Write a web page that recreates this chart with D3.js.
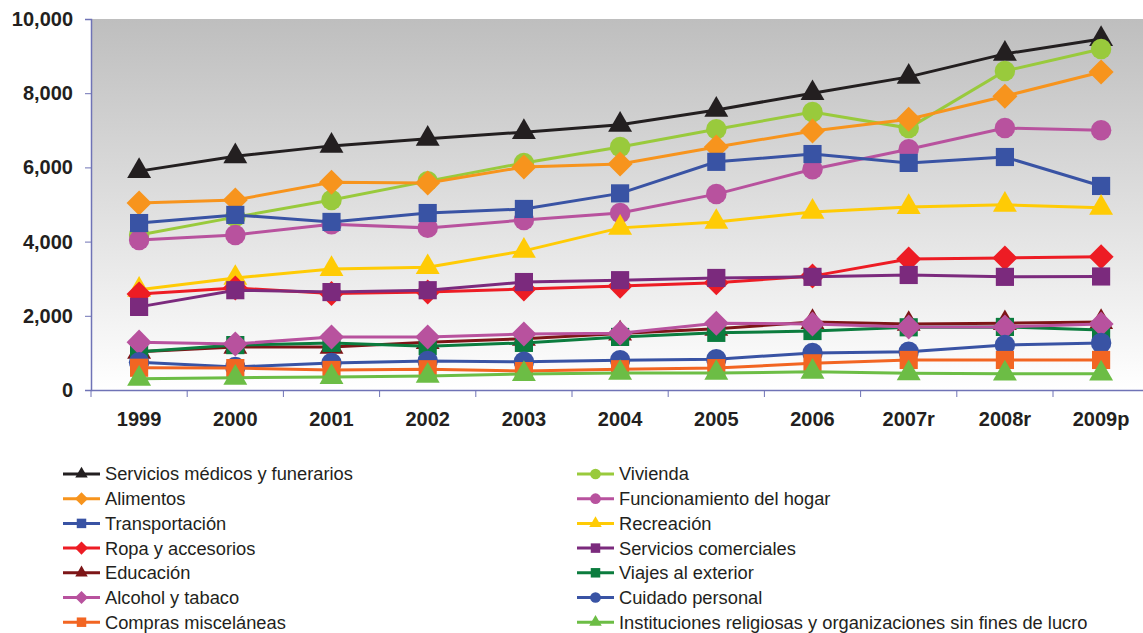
<!DOCTYPE html>
<html>
<head>
<meta charset="utf-8">
<script src="https://cdn.jsdelivr.net/npm/d3@7"></script>
<style>
  body { margin: 0; background: #fff; }
  svg { display: block; font-family: "Liberation Sans", Arial, sans-serif; }
</style>
</head>
<body>
<div id="chart"></div>
<script>
// years on the x axis
const years = ["1999", "2000", "2001", "2002", "2003", "2004", "2005", "2006", "2007r", "2008r", "2009p"];
const yTicks = [0, 2000, 4000, 6000, 8000, 10000];

// series values
const medicos      = [5900, 6300, 6580, 6770, 6950, 7150, 7550, 8000, 8440, 9060, 9460];
const vivienda     = [4180, 4660, 5120, 5630, 6120, 6550, 7030, 7490, 7060, 8600, 9190];
const alimentos    = [5040, 5120, 5600, 5580, 6010, 6090, 6550, 6980, 7300, 7920, 8570];
const hogar        = [4040, 4180, 4470, 4370, 4580, 4770, 5280, 5950, 6490, 7060, 7000];
const transporte   = [4500, 4720, 4530, 4770, 4880, 5300, 6150, 6360, 6120, 6280, 5500];
const recreacion   = [2700, 3020, 3260, 3310, 3750, 4370, 4530, 4800, 4930, 4990, 4910];
const ropa         = [2590, 2750, 2600, 2640, 2720, 2800, 2890, 3070, 3530, 3560, 3590];
const comerciales  = [2240, 2690, 2640, 2690, 2910, 2960, 3020, 3050, 3100, 3050, 3060];
const educacion    = [1030, 1160, 1160, 1290, 1380, 1520, 1650, 1830, 1780, 1800, 1830];
const viajes       = [1030, 1210, 1270, 1180, 1270, 1430, 1540, 1590, 1690, 1700, 1620];
const alcohol      = [1290, 1240, 1430, 1430, 1510, 1530, 1800, 1780, 1700, 1700, 1780];
const cuidado      = [750, 620, 730, 780, 760, 800, 830, 1000, 1030, 1210, 1270];
const compras      = [600, 590, 540, 560, 510, 560, 590, 720, 810, 810, 810];
const religiosas   = [300, 330, 350, 380, 430, 460, 460, 490, 450, 440, 440];

const series = [
  {name: "Servicios médicos y funerarios", values: medicos, color: "#231f20", shape: "triangle"},
  {name: "Vivienda", values: vivienda, color: "#99ca3c", shape: "circle"},
  {name: "Alimentos", values: alimentos, color: "#f7941d", shape: "diamond"},
  {name: "Funcionamiento del hogar", values: hogar, color: "#b8529e", shape: "circle"},
  {name: "Transportación", values: transporte, color: "#3953a4", shape: "square"},
  {name: "Recreación", values: recreacion, color: "#ffcb05", shape: "triangle"},
  {name: "Ropa y accesorios", values: ropa, color: "#ed1c24", shape: "diamond"},
  {name: "Servicios comerciales", values: comerciales, color: "#7b2a7d", shape: "square"},
  {name: "Educación", values: educacion, color: "#7d1517", shape: "triangle"},
  {name: "Viajes al exterior", values: viajes, color: "#0b7c3e", shape: "square"},
  {name: "Alcohol y tabaco", values: alcohol, color: "#b8529e", shape: "diamond"},
  {name: "Cuidado personal", values: cuidado, color: "#3953a4", shape: "circle"},
  {name: "Compras misceláneas", values: compras, color: "#f26522", shape: "square"},
  {name: "Instituciones religiosas y organizaciones sin fines de lucro", values: religiosas, color: "#6cbd45", shape: "triangle"}
];

const width = 1143, height = 633;
const margin = {top: 19, left: 91, bottom: 243};
const plotBottom = height - margin.bottom;

const svg = d3.select("#chart").append("svg")
    .attr("width", width)
    .attr("height", height);

const grad = svg.append("defs").append("linearGradient")
    .attr("id", "bg").attr("x1", 0).attr("y1", 0).attr("x2", 0).attr("y2", 1);
grad.append("stop").attr("offset", "0%").attr("stop-color", "#bebebe");
grad.append("stop").attr("offset", "100%").attr("stop-color", "#ffffff");

const x = d3.scaleBand().domain(years).range([margin.left, margin.left + 11 * 96.2]);
const y = d3.scaleLinear().domain([0, 10000]).range([plotBottom, margin.top]);

svg.append("rect")
    .attr("x", margin.left).attr("y", margin.top)
    .attr("width", width - margin.left).attr("height", plotBottom - margin.top)
    .attr("fill", "url(#bg)");

// axes
const axisColor = "#6f73b6";
const yAxis = svg.append("g")
    .attr("transform", "translate(" + margin.left + ",0)")
    .call(d3.axisLeft(y).tickValues(yTicks).tickSize(6).tickPadding(12).tickFormat(d3.format(",")));
const xAxis = svg.append("g")
    .attr("transform", "translate(0," + plotBottom + ")")
    .call(d3.axisBottom(x).tickSize(0).tickPadding(22));

// ticks between the categories
const bounds = d3.range(0, 12).map(i => x.range()[0] + i * x.step());
xAxis.selectAll(".bound").data(bounds).enter().append("line")
    .attr("class", "bound")
    .attr("x1", d => d).attr("x2", d => d)
    .attr("y1", 0).attr("y2", 7)
    .attr("stroke", axisColor);

svg.selectAll(".domain").attr("stroke", axisColor).attr("stroke-width", 1.5);
yAxis.selectAll(".tick line").attr("stroke", axisColor);
svg.selectAll(".tick text")
    .attr("fill", "#231f20")
    .style("font-size", "20px")
    .style("font-weight", "bold");

function symbolPath(shape, size) {
  if (shape === "triangle") return d3.symbol(d3.symbolTriangle, size * 0.75)();
  if (shape === "circle") return d3.symbol(d3.symbolCircle, size)();
  if (shape === "square") return d3.symbol(d3.symbolSquare, size)();
  return d3.symbol(d3.symbolSquare, size * 0.95)();
}

const line = d3.line()
    .x((d, i) => x(years[i]) + x.bandwidth() / 2)
    .y(d => y(d));

series.forEach(s => {
  const g = svg.append("g");
  g.append("path")
      .attr("d", line(s.values))
      .attr("fill", "none")
      .attr("stroke", s.color)
      .attr("stroke-width", 3);
  g.selectAll("path.mark").data(s.values).enter().append("path")
      .attr("class", "mark")
      .attr("d", symbolPath(s.shape, 330))
      .attr("fill", s.color)
      .attr("transform", (d, i) => "translate(" + (x(years[i]) + x.bandwidth() / 2) + "," + y(d) + ")" +
          (s.shape === "diamond" ? " rotate(45)" : ""));
});

// legend, two columns
const legend = svg.append("g");
const rowH = 24.7;
series.forEach((s, i) => {
  const col = i % 2, row = Math.floor(i / 2);
  const lx = col === 0 ? 63 : 577;
  const ly = 474 + row * rowH;
  const item = legend.append("g").attr("transform", "translate(" + lx + "," + ly + ")");
  item.append("line")
      .attr("x1", 0).attr("x2", 37).attr("y1", 0).attr("y2", 0)
      .attr("stroke", s.color).attr("stroke-width", 3);
  item.append("path")
      .attr("d", symbolPath(s.shape, 90))
      .attr("fill", s.color)
      .attr("transform", "translate(18.5,0)" + (s.shape === "diamond" ? " rotate(45)" : ""));
  item.append("text")
      .attr("x", 42).attr("y", 0).attr("dy", "0.35em")
      .attr("fill", "#231f20")
      .style("font-size", "18.3px")
      .text(s.name);
});
</script>
</body>
</html>
